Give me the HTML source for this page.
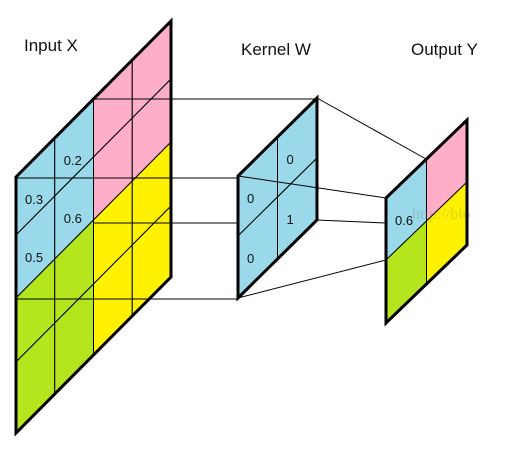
<!DOCTYPE html>
<html><head><meta charset="utf-8"><style>
html,body{margin:0;padding:0;background:#fff;width:509px;height:449px;overflow:hidden}
svg{display:block}
text{font-family:"Liberation Sans","DejaVu Sans",sans-serif;fill:#111}
</style></head><body>
<svg id="svg" width="509" height="449" viewBox="0 0 509 449" xmlns="http://www.w3.org/2000/svg">
<g id="grids"></g>
<g id="connectors" stroke="#000" stroke-width="1">
<line x1="93" y1="99" x2="317" y2="99"/>
<line x1="16" y1="178" x2="238" y2="178"/>
<line x1="93" y1="223" x2="238" y2="223"/>
<line x1="16" y1="299" x2="238" y2="299"/>
<line x1="317" y1="98" x2="426" y2="159"/>
<line x1="238" y1="176" x2="386" y2="198"/>
<line x1="317" y1="220" x2="386" y2="223"/>
<line x1="238" y1="298" x2="386" y2="260"/>
</g>
<g id="labels"></g>
<text x="24" y="51" font-size="17">Input X</text>
<text x="241" y="55" font-size="17">Kernel W</text>
<text x="411" y="55" font-size="17">Output Y</text>
<text x="412" y="219" font-size="16" style="fill:#777;fill-opacity:0.25;font-family:'Liberation Serif',serif">http://blo</text>
</svg>
<script>
const C={b:'#99d9ea',p:'#ffaec9',y:'#fff200',g:'#b5e61d'};
const inputColors=[['b','b','p','p'],['b','b','p','p'],['g','g','y','y'],['g','g','y','y']];
const inputValues=[['0.3','0.2','',''],['0.5','0.6','',''],['','','',''],['','','','']];
const kernelColors=[['b','b'],['b','b']];
const kernelValues=[['0','0'],['0','1']];
const outputColors=[['b','p'],['g','y']];
const outputValues=[['0.6',''],['','']];
const NS='http://www.w3.org/2000/svg';
const G=document.getElementById('grids');
const L=document.getElementById('labels');
function el(t,a){const e=document.createElementNS(NS,t);for(const k in a)e.setAttribute(k,a[k]);return e;}
function grid(name,x0,y0,cw,rowY,sl,colors,vals){
  const g=el('g',{});
  
  
  const n=colors.length,m=colors[0].length;
  const P=(c,r)=>[x0+c*cw,y0+rowY[r]-c*sl];
  for(let r=0;r<n;r++)for(let c=0;c<m;c++){
    const pts=[P(c,r),P(c+1,r),P(c+1,r+1),P(c,r+1)].map(p=>p.join(',')).join(' ');
    const cell=el('polygon',{points:pts,fill:C[colors[r][c]],stroke:'#000','stroke-width':1});
    
    
    g.appendChild(cell);
    if(vals[r][c]){
      const a=P(c,r);
      const t=el('text',{x:a[0]+9,y:a[1]+27,'font-size':13});
      t.textContent=vals[r][c];
      
      
      L.appendChild(t);
    }
  }
  const o=[P(0,0),P(m,0),P(m,n),P(0,n)].map(p=>p.join(',')).join(' ');
  const border=el('polygon',{points:o,fill:'none',stroke:'#000','stroke-width':3});
  
  
  g.appendChild(border);
  G.appendChild(g);
}
grid('input-x-grid',16,177,38.75,[0,58,121,185,256],39,inputColors,inputValues);
grid('kernel-w-grid',238,176,39.5,[0,60,122],39,kernelColors,kernelValues);
grid('output-y-grid',386,198,40.5,[0,62,125],39,outputColors,outputValues);
</script>
</body></html>
